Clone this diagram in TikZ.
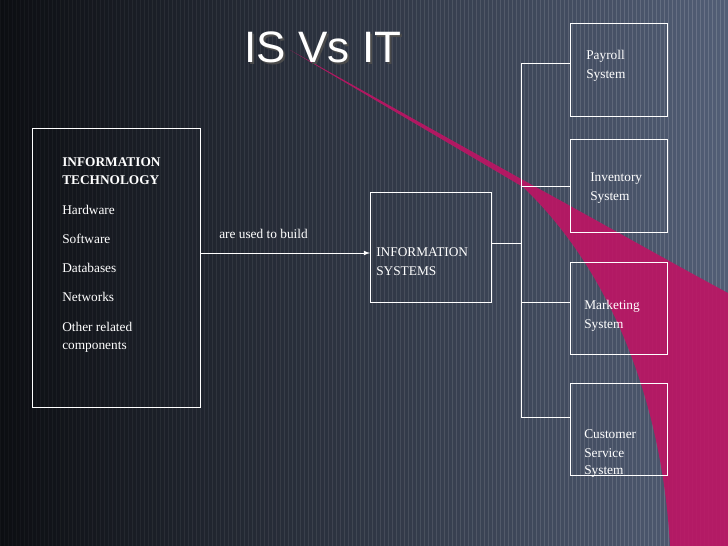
\documentclass[tikz,border=0pt]{standalone}
\usepackage{fontspec}
\setmainfont{Liberation Serif}
\newfontfamily\arialf{Liberation Sans}
\definecolor{bgleft}{RGB}{12,14,18}
\definecolor{bgright}{RGB}{82,94,118}
\definecolor{band}{RGB}{190,20,100}
\begin{document}
\begin{tikzpicture}[x=0.75pt,y=-0.75pt,
  box/.style={draw=white,line width=0.6pt},
  lbl/.style={text=white,font=\fontsize{10}{14.5}\selectfont,align=left,anchor=west,inner sep=0pt},
  wire/.style={draw=white,line width=0.6pt}]
\useasboundingbox (0,0) rectangle (728,546);
\shade[left color=bgleft,right color=bgright] (0,0) rectangle (728,546);
\foreach \i in {0,4,...,728} {\draw[white,opacity={0.03+0.12*\i/728},line width=0.3pt] (\i,0) -- (\i,546);}
\fill[band,opacity=0.9] (290,50) -- (523,180) .. controls (600,222) and (670,262) .. (728,293) -- (728,546) -- (670,546) .. controls (662,400) and (610,270) .. (523,187) -- cycle;
\node[text=black!70,font=\arialf\fontsize{33}{36}\selectfont,inner sep=0pt] at (325,49) {IS Vs IT};
\node[text=white,font=\arialf\fontsize{33}{36}\selectfont,inner sep=0pt] (title) at (323,47) {IS Vs IT};
\draw[box] (32,128) rectangle (200,407);
\coordinate (itr) at (200,253);
\node[lbl] (it1) at (62,162) {\textbf{INFORMATION}};
\node[lbl] (it2) at (62,180) {\textbf{TECHNOLOGY}};
\node[lbl] (it3) at (62,210) {Hardware};
\node[lbl] (it4) at (62,239) {Software};
\node[lbl] (it5) at (62,268) {Databases};
\node[lbl] (it6) at (62,297) {Networks};
\node[lbl] (it7) at (62,327) {Other related};
\node[lbl] (it8) at (62,347) {components};
\draw[box] (370,192) rectangle (491,302);
\coordinate (isl) at (370,253);
\coordinate (isr) at (491,243);
\node[lbl] (is1) at (376,252) {INFORMATION};
\node[lbl] (is2) at (376,271) {SYSTEMS};
\draw[wire,-latex] (itr) -- (isl);
\node[lbl] (lab) at (219,234) {are used to build};
\coordinate (bus) at (521,243);
\draw[wire] (isr) -- (bus);
\draw[wire] (521,63) -- (521,417);
\foreach \n/\t/\b/\y/\xo in {p/23/116/63/588, i/139/232/186/590, m/262/354/302/585, c/383/475/417/585}{
  \draw[box] (570,\t) rectangle (667,\b);
  \coordinate (\n) at (570,\y);
  \draw[wire] (521,\y) -- (\n);
}
\node[lbl] at (586,56) {Payroll};
\node[lbl] at (586,76) {System};
\node[lbl] at (590,179) {Inventory};
\node[lbl] at (590,198) {System};
\node[lbl] at (584,306) {Marketing};
\node[lbl] at (584,326) {System};
\node[lbl] at (584,434) {Customer};
\node[lbl] at (584,453) {Service};
\node[lbl] at (584,472) {System};
\end{tikzpicture}
\end{document}
